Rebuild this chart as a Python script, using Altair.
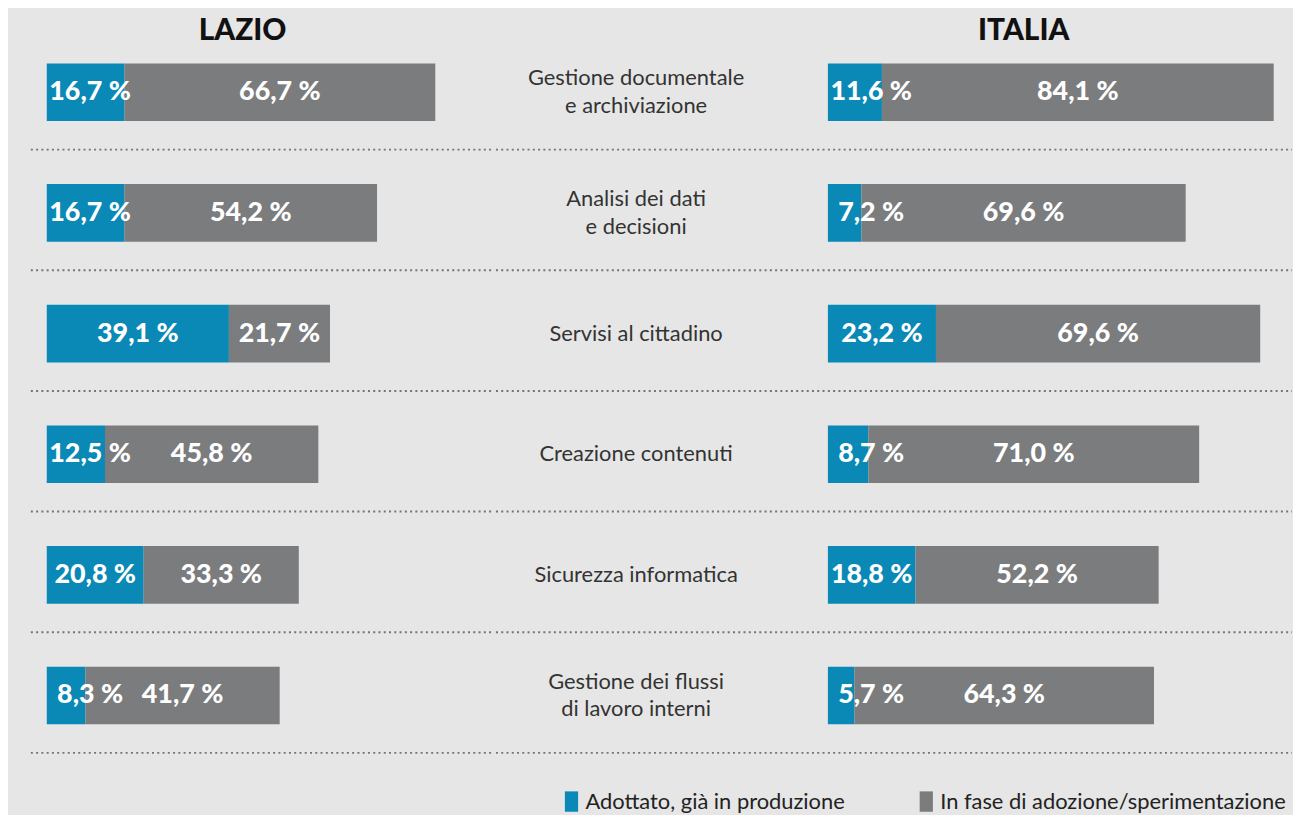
import altair as alt
import pandas as pd

categories = [
    "Gestione documentale e archiviazione",
    "Analisi dei dati e decisioni",
    "Servisi al cittadino",
    "Creazione contenuti",
    "Sicurezza informatica",
    "Gestione dei flussi di lavoro interni",
]
category_labels = [
    "Gestione documentale\ne archiviazione",
    "Analisi dei dati\ne decisioni",
    "Servisi al cittadino",
    "Creazione contenuti",
    "Sicurezza informatica",
    "Gestione dei flussi\ndi lavoro interni",
]
regions = ["LAZIO", "ITALIA"]
status = ["Adottato, già in produzione", "In fase di adozione/sperimentazione"]
lazio_adottato = [16.7, 16.7, 39.1, 12.5, 20.8, 8.3]
lazio_fase = [66.7, 54.2, 21.7, 45.8, 33.3, 41.7]
italia_adottato = [11.6, 7.2, 23.2, 8.7, 18.8, 5.7]
italia_fase = [84.1, 69.6, 69.6, 71.0, 52.2, 64.3]
colors = ["#0a88b6", "#7b7c7e"]


def fmt(v):
    return f"{v:.1f}".replace(".", ",") + " %"


values = {"LAZIO": (lazio_adottato, lazio_fase), "ITALIA": (italia_adottato, italia_fase)}

long_rows, wide_rows = [], []
for reg in regions:
    ad, fa = values[reg]
    for i, c in enumerate(categories):
        long_rows.append({"region": reg, "cat": c, "status": status[0], "value": ad[i], "ord": 0})
        long_rows.append({"region": reg, "cat": c, "status": status[1], "value": fa[i], "ord": 1})
        wide_rows.append({"region": reg, "cat": c, "ad": ad[i], "fa": fa[i],
                          "lab_ad": fmt(ad[i]), "lab_fa": fmt(fa[i])})
long_df = pd.DataFrame(long_rows)
wide_df = pd.DataFrame(wide_rows)
cat_df = pd.DataFrame({
    "cat": categories,
    "label": category_labels,
    "nlines": [lab.count("\n") + 1 for lab in category_labels],
})

PANEL_W = 450
MID_W = 332
H = 747

yscale = alt.Scale(domain=categories, paddingInner=0, paddingOuter=0.0766, align=1)
xscale = alt.Scale(domain=[0, 96], nice=False, zero=True)


def ydef(**kw):
    return alt.Y("cat:N", sort=categories, scale=yscale, axis=None, **kw)


legend = alt.Legend(
    title=None, orient="none", legendX=517, legendY=785, direction="horizontal",
    symbolType="M-0.65,-1H0.65V1H-0.65Z", symbolSize=420, symbolStrokeWidth=0,
    labelFont="Lato", labelFontSize=22, labelColor="#222", columnPadding=70,
    labelOffset=3, labelLimit=500,
)


def separators(x1, x2):
    return alt.Chart(cat_df).mark_rule(
        strokeDash=[2, 3.3], strokeWidth=2, color="#747474"
    ).encode(y=ydef(bandPosition=1), x=alt.value(x1), x2=alt.value(x2))


def panel(reg, rule_x1, rule_x2):
    bars = alt.Chart(long_df).transform_filter(
        alt.datum.region == reg
    ).mark_bar(size=58, yOffset=3).encode(
        x=alt.X("value:Q", stack="zero", scale=xscale, axis=None),
        y=ydef(),
        color=alt.Color("status:N", scale=alt.Scale(domain=status, range=colors), legend=legend),
        order=alt.Order("ord:Q"),
    )
    base_t = alt.Chart(wide_df).transform_filter(alt.datum.region == reg)
    tstyle = dict(font="Lato", fontWeight=900, fontSize=27, color="white", yOffset=3)
    lab_ad = base_t.transform_calculate(bx="max(datum.ad / 2, 9.3)").mark_text(**tstyle).encode(
        x=alt.X("bx:Q", scale=xscale, axis=None), y=ydef(), text="lab_ad:N"
    )
    lab_fa = base_t.transform_calculate(gx="datum.ad + datum.fa / 2").mark_text(**tstyle).encode(
        x=alt.X("gx:Q", scale=xscale, axis=None), y=ydef(), text="lab_fa:N"
    )
    title = alt.Chart(pd.DataFrame({"t": [reg]})).mark_text(
        font="Lato", fontWeight=900, fontSize=30, color="#111"
    ).encode(text="t:N", x=alt.value(197), y=alt.value(21))
    return alt.layer(separators(rule_x1, rule_x2), bars, lab_ad, lab_fa, title).properties(
        width=PANEL_W, height=H
    )


left = panel("LAZIO", -16, PANEL_W)
right = panel("ITALIA", 0, PANEL_W + 17)

mstyle = dict(font="Lato", fontSize=22, lineBreak="\n", lineHeight=28, color="#333")
mid_one = alt.Chart(cat_df).transform_filter(alt.datum.nlines == 1).mark_text(
    yOffset=3, **mstyle
).encode(y=ydef(), x=alt.value(141), text="label:N")
mid_two = alt.Chart(cat_df).transform_filter(alt.datum.nlines == 2).mark_text(
    yOffset=3 - 14, **mstyle
).encode(y=ydef(), x=alt.value(141), text="label:N")
middle = alt.layer(separators(0, MID_W), mid_one, mid_two).properties(width=MID_W, height=H)

chart = alt.hconcat(left, middle, right, spacing=0).resolve_scale(color="shared").properties(
    background="#e6e6e6", padding={"left": 22, "top": 0, "right": 0, "bottom": 0}
).configure_view(stroke=None)

chart.save("out.html", embed_options={"renderer": "svg", "actions": False})
